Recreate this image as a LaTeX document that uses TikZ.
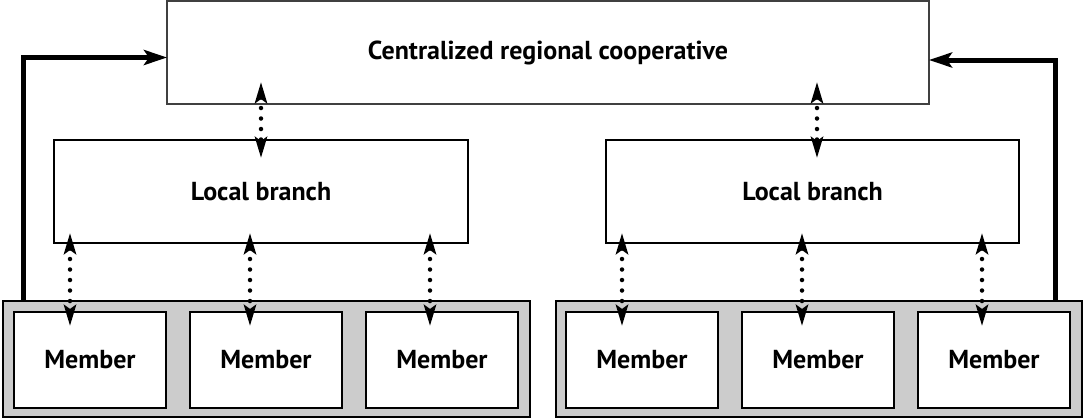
\documentclass[tikz,border=0pt]{standalone}
\usepackage{fontspec}
\setmainfont{PT Sans}
\usetikzlibrary{arrows.meta,positioning}
\begin{document}
\begin{tikzpicture}[x=1pt, y=-1pt,
  box/.style = {draw, line width=1.2pt, fill=white, outer sep=0pt, inner sep=0pt,
    font=\fontsize{26}{30}\selectfont\bfseries},
  member/.style = {box, minimum width=152pt, minimum height=96pt},
  group/.style = {draw, line width=1.2pt, fill=black!20, outer sep=0pt,
    minimum width=527pt, minimum height=116pt},
  dotlink/.style = {line width=4.5pt, line cap=round, dash pattern=on 0pt off 10.5pt,
    {Stealth[length=21pt,width=12pt,inset=4pt]}-{Stealth[length=21pt,width=12pt,inset=4pt]}},
  feed/.style = {line width=5pt, -{Stealth[length=23pt,width=15pt,inset=5pt]}}]
\useasboundingbox (0,0) rectangle (1085,418);

\node[box, draw=black!75, minimum width=762pt, minimum height=103pt] (coop) at (548,52.5) {Centralized regional cooperative};
\node[box, minimum width=414pt, minimum height=103pt] (b1) at (261,191.5) {Local branch};
\node[box, minimum width=413pt, minimum height=103pt] (b2) at (812.5,191.5) {Local branch};

\node[group] (g1) at (266.5,359) {};
\node[group, minimum width=526pt] (g2) at (819,359) {};

\node[member] (m11) at (90,360) {Member};
\node[member] (m12) [right=24pt of m11] {Member};
\node[member] (m13) [right=24pt of m12] {Member};
\node[member] (m21) at (642,360) {Member};
\node[member] (m22) [right=24pt of m21] {Member};
\node[member] (m23) [right=24pt of m22] {Member};

% branches to the cooperative
\draw[dotlink, shorten <=-22pt, shorten >=-18pt] (b1 |- coop.south) -- (b1.north);
\coordinate (t2) at ([xshift=4.5pt]b2.north);
\draw[dotlink, shorten <=-22pt, shorten >=-18pt] (t2 |- coop.south) -- (t2);

% members to their branch
\foreach \j/\dx in {1/16, 2/196, 3/376} {
  \coordinate (a1\j) at ([xshift=\dx pt]b1.south west);
  \draw[dotlink, shorten <=-10pt, shorten >=-14pt] (a1\j) -- (a1\j |- m1\j.north);
  \coordinate (a2\j) at ([xshift=\dx pt]b2.south west);
  \draw[dotlink, shorten <=-10pt, shorten >=-14pt] (a2\j) -- (a2\j |- m2\j.north);
}

\draw[feed] ([xshift=20pt]g1.north west) |- ([yshift=-5pt]coop.west);
\draw[feed] ([xshift=-27pt]g2.north east) |- ([yshift=-7.5pt]coop.east);
\end{tikzpicture}
\end{document}
